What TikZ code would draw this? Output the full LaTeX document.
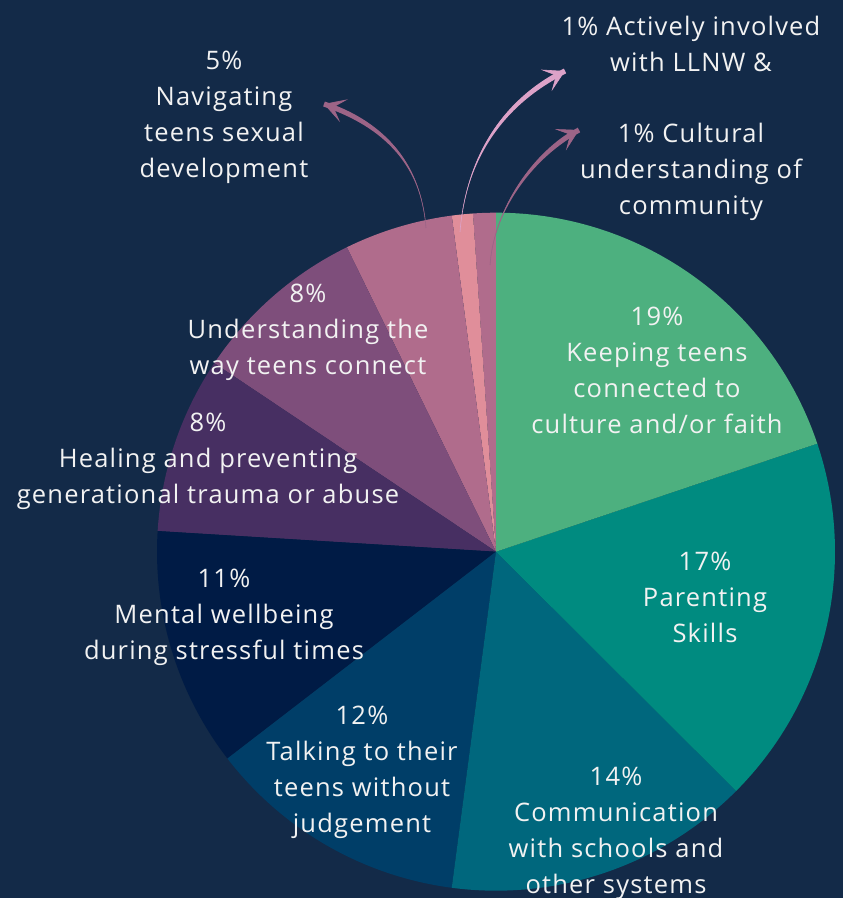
\documentclass[tikz,border=0pt]{standalone}
\usepackage{fontspec}
\setmainfont[LetterSpace=4.7]{Open Sans}
\usetikzlibrary{calc,arrows.meta}
\definecolor{bg}{HTML}{132A48}
\definecolor{txt}{HTML}{F2F2F2}
\definecolor{cgreen}{HTML}{4DB07F}
\definecolor{cteal}{HTML}{008B80}
\definecolor{ctealblue}{HTML}{00677D}
\definecolor{cnavy}{HTML}{003E68}
\definecolor{cdarknavy}{HTML}{001B45}
\definecolor{cdarkpurple}{HTML}{472F62}
\definecolor{cpurple}{HTML}{7E4E7B}
\definecolor{cmauve}{HTML}{B06C8C}
\definecolor{cpink}{HTML}{E08E9A}
\definecolor{arrmauve}{HTML}{9C6487}
\definecolor{arrpink}{HTML}{DCA2C8}
\newcommand{\pieslice}[3]{\fill[#3] (O) -- ($(O)+(#1:339pt)$) arc[start angle=#1, end angle=#2, radius=339pt] -- cycle;}
\begin{document}
\begin{tikzpicture}[x=1pt,y=1pt,
  lbl/.style={text=txt, align=center, font=\fontsize{25.5}{36}\selectfont, inner sep=0pt},
  headtip/.style={-{Stealth[length=21pt,width=24pt,inset=11pt]}, line width=0.6pt}]
\useasboundingbox (0,0) rectangle (843,898);
\fill[bg] (0,0) rectangle (843,898);
\coordinate (O) at (496,346.3);
% slices
\pieslice{90}{93.9}{cmauve}
\pieslice{93.9}{97.5}{cpink}
\pieslice{97.5}{116.1}{cmauve}
\pieslice{116.1}{146.2}{cpurple}
\pieslice{146.2}{176.5}{cdarkpurple}
\pieslice{176.5}{217.6}{cdarknavy}
\pieslice{217.6}{262.5}{cnavy}
\pieslice{262.5}{315.1}{ctealblue}
\pieslice{315.1}{378.6}{cteal}
\pieslice{378.6}{450}{cgreen}
% arrow left (5%)
\coordinate (aT) at (426,670);
\coordinate (aC1) at (422,723);
\coordinate (aC2) at (395,770);
\coordinate (aH) at (324,794);
\coordinate (aHl) at ($(aH)!2.6pt!90:(aC2)$);
\coordinate (aHr) at ($(aH)!2.6pt!-90:(aC2)$);
\fill[arrmauve] (aT) .. controls (aC1) and ($(aC2)+(aHl)-(aH)$) .. (aHl) -- (aHr) .. controls ($(aC2)+(aHr)-(aH)$) and (aC1) .. (aT) -- cycle;
\draw[arrmauve, headtip] (aT) .. controls (aC1) and (aC2) .. (aH);
% arrow middle (1% Actively)
\coordinate (bT) at (460,666);
\coordinate (bC1) at (465,730);
\coordinate (bC2) at (495,792);
\coordinate (bH) at (565,827);
\coordinate (bHl) at ($(bH)!2.6pt!90:(bC2)$);
\coordinate (bHr) at ($(bH)!2.6pt!-90:(bC2)$);
\fill[arrpink] (bT) .. controls (bC1) and ($(bC2)+(bHl)-(bH)$) .. (bHl) -- (bHr) .. controls ($(bC2)+(bHr)-(bH)$) and (bC1) .. (bT) -- cycle;
\draw[arrpink, headtip] (bT) .. controls (bC1) and (bC2) .. (bH);
% arrow right (1% Cultural)
\coordinate (cT) at (490,633);
\coordinate (cC1) at (494,690);
\coordinate (cC2) at (535,745);
\coordinate (cH) at (579,768);
\coordinate (cHl) at ($(cH)!2.6pt!90:(cC2)$);
\coordinate (cHr) at ($(cH)!2.6pt!-90:(cC2)$);
\fill[arrmauve] (cT) .. controls (cC1) and ($(cC2)+(cHl)-(cH)$) .. (cHl) -- (cHr) .. controls ($(cC2)+(cHr)-(cH)$) and (cC1) .. (cT) -- cycle;
\draw[arrmauve, headtip] (cT) .. controls (cC1) and (cC2) .. (cH);
% labels
\node[lbl] (l5) at (224,780.5) {5\%\\Navigating\\teens sexual\\development};
\node[lbl] (l1a) at (691,854.5) {1\% Actively involved\\with LLNW \&};
\node[lbl] (l1b) at (691,726) {1\% Cultural\\understanding of\\community};
\node[lbl] (l19) at (657,528) {19\%\\Keeping teens\\connected to\\culture and/or faith};
\node[lbl] (l17) at (705,301) {17\%\\Parenting\\Skills};
\node[lbl] (l14) at (616,64.5) {14\%\\Communication\\with schools and\\other systems};
\node[lbl] (l12) at (362,126) {12\%\\Talking to their\\teens without\\judgement};
\node[lbl] (l11) at (224,280.5) {11\%\\Mental wellbeing\\during stressful times};
\node[lbl] (l8b) at (208,436.5) {8\%\\Healing and preventing\\generational trauma or abuse};
\node[lbl] (l8a) at (308,566) {8\%\\Understanding the\\way teens connect};
\end{tikzpicture}
\end{document}
